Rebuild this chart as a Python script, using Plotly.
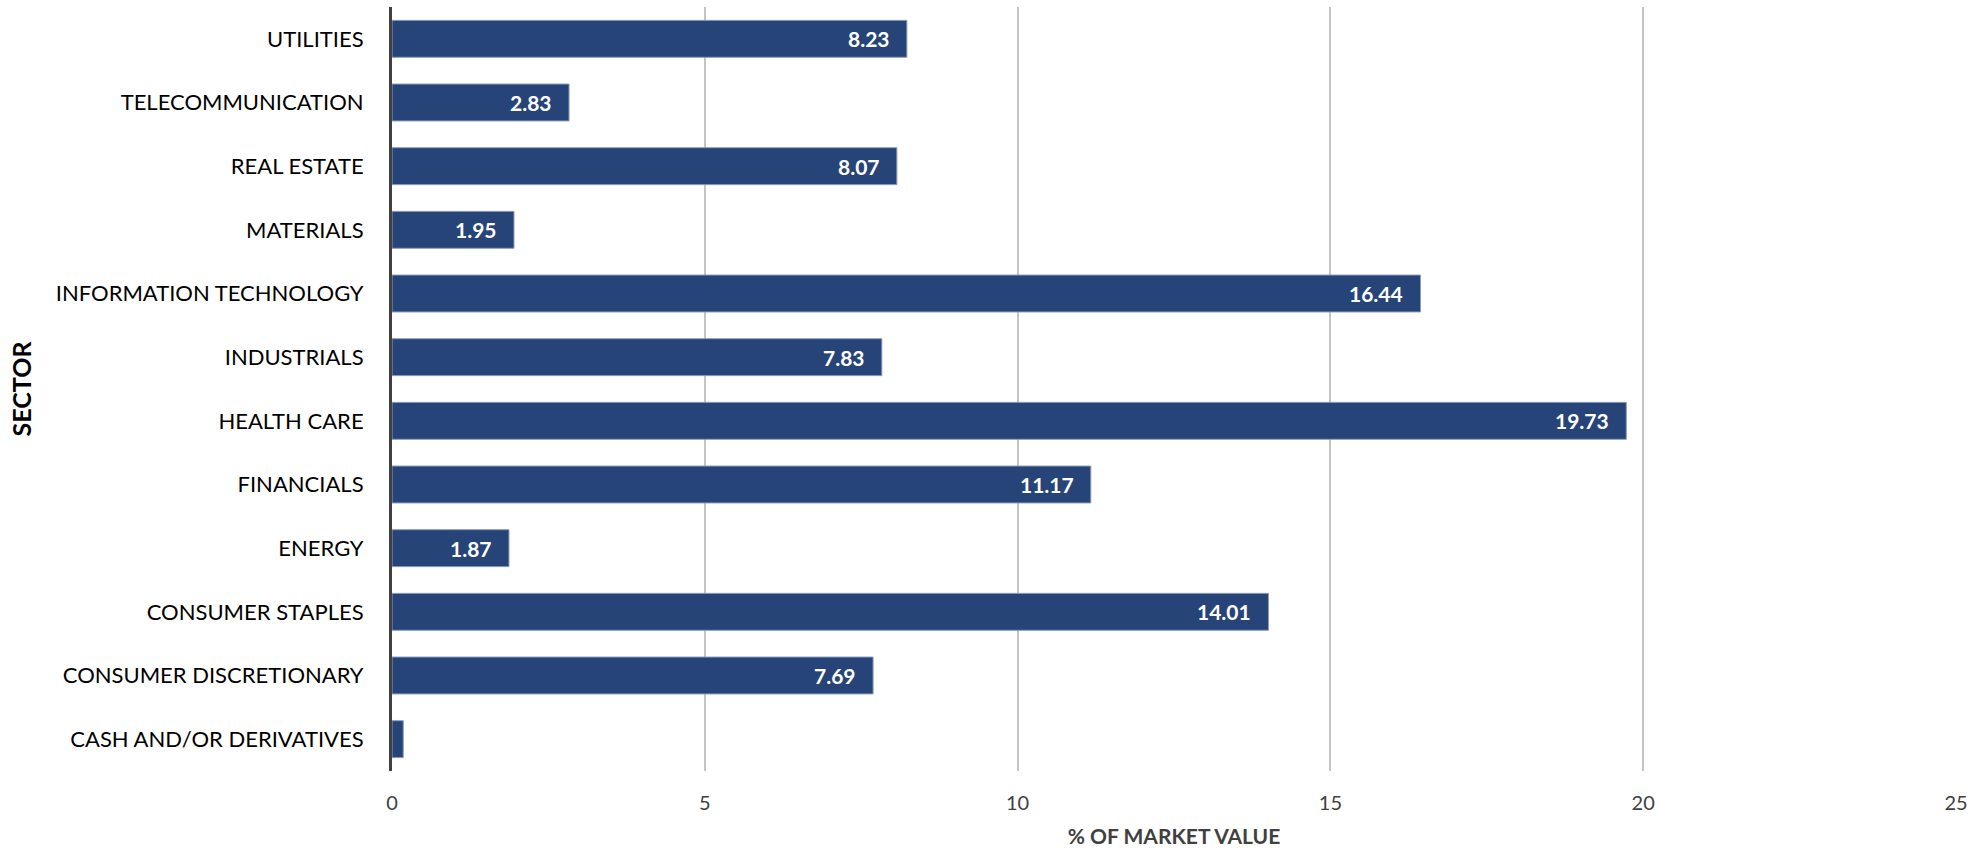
import plotly.graph_objects as go

# Sector weights, % of market value (bottom to top)
sectors = [
    "CASH AND/OR DERIVATIVES",
    "CONSUMER DISCRETIONARY",
    "CONSUMER STAPLES",
    "ENERGY",
    "FINANCIALS",
    "HEALTH CARE",
    "INDUSTRIALS",
    "INFORMATION TECHNOLOGY",
    "MATERIALS",
    "REAL ESTATE",
    "TELECOMMUNICATION",
    "UTILITIES",
]
weights = [0.18, 7.69, 14.01, 1.87, 11.17, 19.73, 7.83, 16.44, 1.95, 8.07, 2.83, 8.23]
# Value labels are shown for every sector except the tiny cash position
show_label = [False] + [True] * 11

x_ticks = [0, 5, 10, 15, 20, 25]

FONT = "Lato"
BAR = "#264478"

fig = go.Figure(
    go.Bar(
        x=weights,
        y=sectors,
        orientation="h",
        marker=dict(color=BAR, line=dict(color="#8c9cbd", width=1)),
        hoverinfo="x+y",
    )
)

for s, v, show in zip(sectors, weights, show_label):
    if show:
        fig.add_annotation(
            x=v, y=s, xref="x", yref="y",
            text=f"<b>{v:.2f}</b>",
            showarrow=False,
            xanchor="right",
            xshift=-15,
            font=dict(family=FONT, size=21, color="white"),
        )

fig.update_layout(
    width=1978,
    height=851,
    margin=dict(l=392, r=22, t=7, b=80),
    paper_bgcolor="white",
    plot_bgcolor="white",
    bargap=0.42,
    showlegend=False,
    font=dict(family=FONT, color="#000000"),
)

fig.update_xaxes(
    range=[0, 25],
    tickvals=x_ticks,
    ticktext=[str(t) for t in x_ticks],
    showgrid=True,
    gridcolor="#c4c4c4",
    gridwidth=1.5,
    zeroline=False,
    showline=False,
    ticks="",
    ticklabelstandoff=18,
    tickfont=dict(family=FONT, size=20, color="#404040"),
    title=dict(
        text="<b>% OF MARKET VALUE</b>",
        font=dict(family=FONT, size=21, color="#404040"),
        standoff=16,
    ),
)

fig.update_yaxes(
    categoryorder="array",
    categoryarray=sectors,
    showgrid=False,
    showline=True,
    linecolor="#404040",
    linewidth=3,
    ticks="",
    ticklabelstandoff=21,
    tickfont=dict(family=FONT, size=22, color="#000000"),
    title=dict(
        text="<b>SECTOR</b>",
        font=dict(family=FONT, size=25, color="#000000"),
        standoff=18,
    ),
)

fig.write_html("out.html")
